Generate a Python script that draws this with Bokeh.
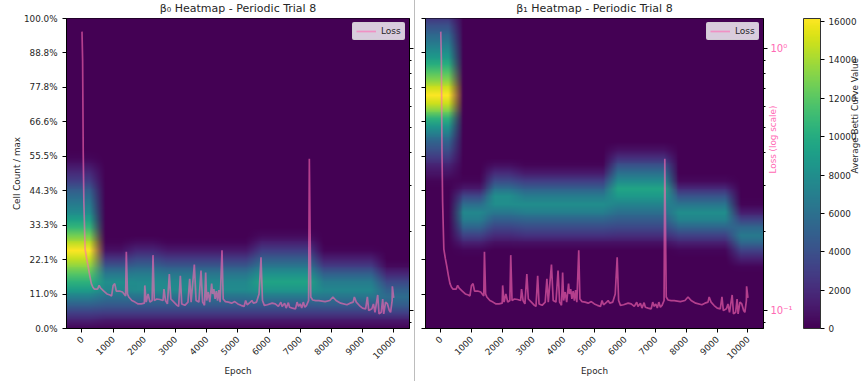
import math
import numpy as np
from bokeh.embed import file_html
from bokeh.layouts import row
from bokeh.models import (ColorBar, Div, FixedTicker, Legend, LinearAxis, LinearColorMapper,
                          LogAxis, LogScale, Range1d)
from bokeh.palettes import Viridis256
from bokeh.plotting import figure
from bokeh.resources import INLINE

# ---- data ----
x_tick_values = [0, 1000, 2000, 3000, 4000, 5000, 6000, 7000, 8000, 9000, 10000]
y_tick_labels = ["0.0%", "11.0%", "22.1%", "33.3%", "44.3%", "55.5%", "66.6%", "77.8%", "88.8%", "100.0%"]
colorbar_ticks = [0, 2000, 4000, 6000, 8000, 10000, 12000, 14000, 16000]
y_levels = [i * 2.5 for i in range(41)]   # cell count / max, in percent

b0_c0 = [300, 1500, 3000, 5000, 7000, 9000, 10500, 12000, 13400, 14800, 16160, 14600, 12800, 10800, 9200, 7800, 6800, 5700, 4500, 3000, 2000, 1000, 300]
b0_c1 = [200, 1200, 2800, 4600, 6000, 7500, 8000, 6500, 4500, 2500, 800, 200]
b0_c2 = [200, 1200, 2800, 4600, 6200, 7800, 7800, 6800, 5200, 3500, 1800, 600, 100]
b0_c3 = [200, 1200, 2800, 4600, 6200, 7800, 7600, 6400, 4600, 2800, 1200, 300]
b0_c4 = [200, 1200, 2800, 4600, 6200, 7800, 7600, 6400, 4600, 2800, 1200, 300]
b0_c5 = [200, 1200, 2800, 4600, 6200, 7800, 7600, 6400, 4600, 2800, 1200, 300]
b0_c6 = [200, 1200, 2800, 4600, 6500, 8500, 9500, 8200, 6500, 4800, 3000, 1500, 500, 100]
b0_c7 = [200, 1200, 2800, 4600, 6500, 8500, 9500, 8200, 6500, 4800, 3000, 1500, 500, 100]
b0_c8 = [200, 1200, 2800, 4800, 6400, 7500, 6800, 5000, 3000, 1400, 300]
b0_c9 = [200, 1200, 2800, 4800, 6400, 7500, 6800, 5000, 3000, 1400, 300]
b0_c10 = [200, 1200, 3000, 4800, 5800, 5000, 3500, 1800, 500]
beta0_columns = [b0_c0, b0_c1, b0_c2, b0_c3, b0_c4, b0_c5, b0_c6, b0_c7, b0_c8, b0_c9, b0_c10]

b1_c0 = [0] * 19 + [200, 900, 1700, 2800, 4000, 5200, 6800, 8500, 10500, 13000, 15000, 16160, 15000, 13300, 11800, 10200, 8800, 7600, 6300, 5200, 4000, 2500]
b1_c1 = [0] * 10 + [300, 1500, 3200, 5200, 7000, 7600, 5800, 3500, 1200, 200]
b1_c2 = [0] * 11 + [700, 2000, 3400, 5000, 6500, 8000, 8000, 6000, 3800, 2000, 600]
b1_c3 = [0] * 11 + [800, 2400, 3800, 5300, 7000, 8000, 6800, 5000, 3000, 1200, 200]
b1_c4 = [0] * 11 + [800, 2400, 3800, 5300, 7000, 8000, 6800, 5000, 3000, 1200, 200]
b1_c5 = [0] * 11 + [800, 2400, 3800, 5300, 7000, 8000, 6800, 5000, 3000, 1200, 200]
b1_c6 = [0] * 11 + [800, 2200, 3500, 4800, 6000, 7300, 8800, 9600, 7800, 6000, 4000, 2200, 700]
b1_c7 = [0] * 11 + [800, 2200, 3500, 4800, 6000, 7300, 8800, 9600, 7800, 6000, 4000, 2200, 700]
b1_c8 = [0] * 10 + [300, 1500, 3200, 5300, 7300, 8000, 6300, 4200, 2000, 400]
b1_c9 = [0] * 10 + [300, 1500, 3200, 5300, 7300, 8000, 6300, 4200, 2000, 400]
b1_c10 = [0] * 8 + [300, 1500, 3200, 5500, 6700, 5500, 3200, 1300, 200]
beta1_columns = [b1_c0, b1_c1, b1_c2, b1_c3, b1_c4, b1_c5, b1_c6, b1_c7, b1_c8, b1_c9, b1_c10]

epochs = [0, 20, 40, 60, 100, 150, 200, 250, 300, 350, 400, 500, 550, 600, 700, 800, 900, 950, 1000, 1050, 1100,
          1200, 1300, 1400, 1422, 1460, 1500, 1600, 1700, 1800, 1900, 2000, 2015, 2060, 2120, 2180, 2250, 2278, 2320,
          2400, 2500, 2600, 2630, 2680, 2740, 2802, 2850, 2950, 3050, 3100, 3155, 3200, 3300, 3400, 3455, 3500,
          3604, 3660, 3750, 3818, 3870, 3930, 3968, 4000, 4050, 4100, 4160, 4190, 4230, 4270, 4310, 4350, 4390, 4430,
          4492, 4530, 4600, 4700, 4800, 4900, 5000, 5100, 5200, 5250, 5300, 5400, 5450, 5500, 5600, 5680, 5743, 5790,
          5850, 5950, 6100, 6200, 6300, 6380, 6420, 6500, 6550, 6620, 6660, 6750, 6850, 6900, 6950, 7000, 7050, 7100,
          7150, 7200, 7270, 7294, 7340, 7400, 7500, 7600, 7700, 7800, 7950, 8050, 8150, 8300, 8500, 8600, 8700, 8738,
          8800, 8900, 9000, 9100, 9155, 9200, 9300, 9350, 9400, 9487, 9530, 9600, 9647, 9680, 9740, 9800, 9860, 9900,
          9950, 9957, 10000]
loss = [1.156, 0.90, 0.40, 0.26, 0.172, 0.158, 0.147, 0.136, 0.127, 0.123, 0.121, 0.121, 0.125, 0.122, 0.119, 0.116,
        0.115, 0.114, 0.125, 0.127, 0.119, 0.119, 0.118, 0.114, 0.168, 0.116, 0.113, 0.1095, 0.108, 0.1063, 0.1063,
        0.107, 0.125, 0.108, 0.116, 0.108, 0.1095, 0.163, 0.1095, 0.111, 0.1105, 0.1095, 0.121, 0.1095, 0.1063, 0.138,
        0.111, 0.108, 0.105, 0.104, 0.136, 0.1063, 0.105, 0.108, 0.1325, 0.108, 0.150, 0.1095, 0.108, 0.1425, 0.108,
        0.105, 0.140, 0.1095, 0.118, 0.108, 0.127, 0.116, 0.121, 0.111, 0.119, 0.1095, 0.120, 0.108, 0.170, 0.111,
        0.1085, 0.108, 0.107, 0.1085, 0.1063, 0.105, 0.104, 0.1095, 0.1055, 0.108, 0.1095, 0.107, 0.108, 0.116, 0.160,
        0.1095, 0.105, 0.1055, 0.107, 0.1063, 0.104, 0.108, 0.104, 0.107, 0.1025, 0.1075, 0.1033, 0.1025, 0.1018, 0.108,
        0.104, 0.1063, 0.1025, 0.108, 0.1033, 0.1048, 0.1095, 0.3795, 0.113, 0.110, 0.1095, 0.1095, 0.109, 0.1085,
        0.1095, 0.113, 0.1095, 0.107, 0.1055, 0.107, 0.108, 0.113, 0.108, 0.1048, 0.1025, 0.1018, 0.113, 0.1003, 0.1018,
        0.1063, 0.0988, 0.115, 0.0974, 0.0988, 0.111, 0.0974, 0.108, 0.1063, 0.1003, 0.0988, 0.1095, 0.124, 0.112]

# ---- scales ----
COUNT_MAX = 16160
LOSS_RANGE = (0.0857, 1.297)
X_RANGE = (-497, 10507)
mapper = LinearColorMapper(palette=Viridis256, low=0, high=COUNT_MAX)
PINK = "#ff69b4"
TXT = "#262626"
FONT = "DejaVu Sans"
FS = "8.8px"
PALETTE_RGB = np.array([[int(h[i:i + 2], 16) for i in (1, 3, 5)] for h in Viridis256], dtype=float)


def heatmap_rgba(columns):
    """Colour the cells, then blend the colours across the seams as the original's interpolation does."""
    full = np.array([c + [0] * (len(y_levels) - len(c)) for c in columns], dtype=float).T
    cells = np.repeat(full, 2, axis=1)  # each column covers 1000 epochs; doubled so only seams blend
    idx = np.clip((cells / COUNT_MAX * 255).astype(int), 0, 255)
    rgb = PALETTE_RGB[idx]
    ny, nx = cells.shape
    fy = (np.linspace(0, ny, 330, endpoint=False) + ny / 660) - 0.5
    fx = (np.linspace(0, nx, 352, endpoint=False) + nx / 704) - 0.5
    out = np.zeros((len(fy), len(fx), 3))
    tmp = np.stack([[np.interp(fx, np.arange(nx), rgb[r, :, k]) for k in range(3)] for r in range(ny)])
    for k in range(3):
        for j in range(len(fx)):
            out[:, j, k] = np.interp(fy, np.arange(ny), tmp[:, k, j])
    u = out.astype(np.uint32)
    return (255 << 24) | (u[:, :, 2] << 16) | (u[:, :, 1] << 8) | u[:, :, 0]


def panel(title, columns, width, left, right):
    p = figure(width=width, height=386, x_range=Range1d(*X_RANGE), y_range=Range1d(0, 100),
               output_backend="svg", toolbar_location=None, min_border_left=left, min_border_right=right,
               min_border_top=0, min_border_bottom=53, x_axis_location=None, y_axis_location=None)
    p.grid.visible = False
    p.outline_line_color = "black"
    p.outline_line_width = 1
    p.background_fill_color = "white"
    p.border_fill_color = "white"
    p.title.text = title
    p.title.align = "center"
    p.title.text_font = FONT
    p.title.text_font_size = "11px"
    p.title.text_font_style = "normal"
    p.title.text_color = TXT
    p.title.offset = 0
    p.title.standoff = 8
    p.image_rgba(image=[heatmap_rgba(columns)], x=-500, y=-1.25, dw=11000, dh=102.5, level="image")
    p.extra_y_scales["loss"] = LogScale()
    p.extra_y_ranges["loss"] = Range1d(*LOSS_RANGE)
    p.line(epochs, loss, y_range_name="loss", line_color=PINK, line_alpha=0.6, line_width=1.7, legend_label="Loss")
    p.legend.location = "top_right"
    p.legend.margin = 4
    p.legend.padding = 3
    p.legend.spacing = 0
    p.legend.label_text_font = FONT
    p.legend.label_text_font_size = "9px"
    p.legend.label_text_color = TXT
    p.legend.label_height = 10
    p.legend.glyph_height = 10
    p.legend.glyph_width = 20
    p.legend.background_fill_alpha = 0.8
    p.legend.border_line_color = "#cccccc"
    if "border_radius" in Legend.properties():
        p.legend.border_radius = 2

    xa = LinearAxis(ticker=FixedTicker(ticks=x_tick_values), axis_label="Epoch")
    xa.major_label_orientation = math.pi / 4
    xa.major_label_text_font = FONT
    xa.major_label_text_font_size = FS
    xa.major_label_text_color = TXT
    xa.axis_label_text_font = FONT
    xa.axis_label_text_font_size = FS
    xa.axis_label_text_font_style = "normal"
    xa.axis_label_text_color = TXT
    xa.axis_label_standoff = 1
    xa.major_tick_out = 4
    xa.major_tick_in = 0
    xa.minor_tick_out = 0
    xa.minor_tick_in = 0
    xa.axis_line_color = "black"
    p.add_layout(xa, "below")
    return p


def percent_axis(p, labelled):
    ticks = [i * 100 / 9 for i in range(10)]
    ya = LinearAxis(ticker=FixedTicker(ticks=ticks))
    ya.major_label_overrides = {t: (s if labelled else "") for t, s in zip(ticks, y_tick_labels)}
    ya.major_label_text_font = FONT
    ya.major_label_text_font_size = FS
    ya.major_label_text_color = TXT
    ya.major_tick_out = 4
    ya.major_tick_in = 0
    ya.minor_tick_out = 0
    ya.minor_tick_in = 0
    if labelled:
        ya.axis_label = "Cell Count / max"
        ya.axis_label_text_font = FONT
        ya.axis_label_text_font_size = FS
        ya.axis_label_text_font_style = "normal"
        ya.axis_label_text_color = TXT
        ya.axis_label_standoff = -1
    else:
        ya.major_label_standoff = 0
    p.add_layout(ya, "left")


def loss_axis(p, labelled):
    ya = LogAxis(y_range_name="loss",
                 ticker=FixedTicker(ticks=[0.1, 1.0], minor_ticks=[0.09, 0.2, 0.3, 0.4, 0.5, 0.6, 0.7, 0.8, 0.9]))
    ya.major_label_overrides = ({0.1: "10\u207b\u00b9", 1.0: "10\u2070"} if labelled else {0.1: "", 1.0: ""})
    ya.major_label_text_font = FONT
    ya.major_label_text_font_size = "10px"
    ya.major_label_text_color = PINK
    ya.major_label_standoff = 3
    ya.major_tick_line_color = "black"
    ya.minor_tick_line_color = "black"
    ya.major_tick_out = 4
    ya.major_tick_in = 0
    ya.minor_tick_out = 2
    ya.minor_tick_in = 0
    ya.axis_line_color = "black"
    p.add_layout(ya, "right")


def margin_title(p, text, color, standoff, bounds):
    """A bare axis that only carries an upward-reading title in the right margin."""
    ax = LinearAxis(ticker=FixedTicker(ticks=[]), axis_label=text, bounds=bounds)
    ax.axis_line_color = None
    ax.major_tick_line_color = None
    ax.minor_tick_line_color = None
    ax.axis_label_text_font = FONT
    ax.axis_label_text_font_size = FS
    ax.axis_label_text_font_style = "normal"
    ax.axis_label_text_color = color
    ax.axis_label_standoff = standoff
    if "axis_label_orientation" in ax.properties():
        ax.axis_label_orientation = math.pi / 2
    p.add_layout(ax, "right")


p1 = panel("\u03b2\u2080 Heatmap - Periodic Trial 8", beta0_columns, 414, 66, 5)
p2 = panel("\u03b2\u2081 Heatmap - Periodic Trial 8", beta1_columns, 452, 10, 99)

percent_axis(p1, True)
percent_axis(p2, False)
loss_axis(p1, False)
loss_axis(p2, True)

cb = ColorBar(color_mapper=mapper, ticker=FixedTicker(ticks=colorbar_ticks), width=17, height=310,
              location=(378, 0), margin=0, padding=0,
              major_label_text_font=FONT, major_label_text_font_size=FS, major_label_text_color=TXT,
              major_tick_line_color="black", major_tick_in=0, major_tick_out=4, minor_tick_line_color=None,
              bar_line_color="#333333", border_line_color=None, background_fill_alpha=0, label_standoff=4)
p2.add_layout(cb)

margin_title(p2, "Average Betti Curve Value", TXT, 59, (0, 62))
margin_title(p2, "Loss (log scale)", PINK, -95, (0, 77.6))

divider = Div(width=1, height=386, margin=0, styles={"background-color": "#bdbdbd"})
layout = row(p1, divider, p2, spacing=0, margin=(-5, 0, 0, 0))

open("out.html", "w").write(file_html(layout, INLINE))
